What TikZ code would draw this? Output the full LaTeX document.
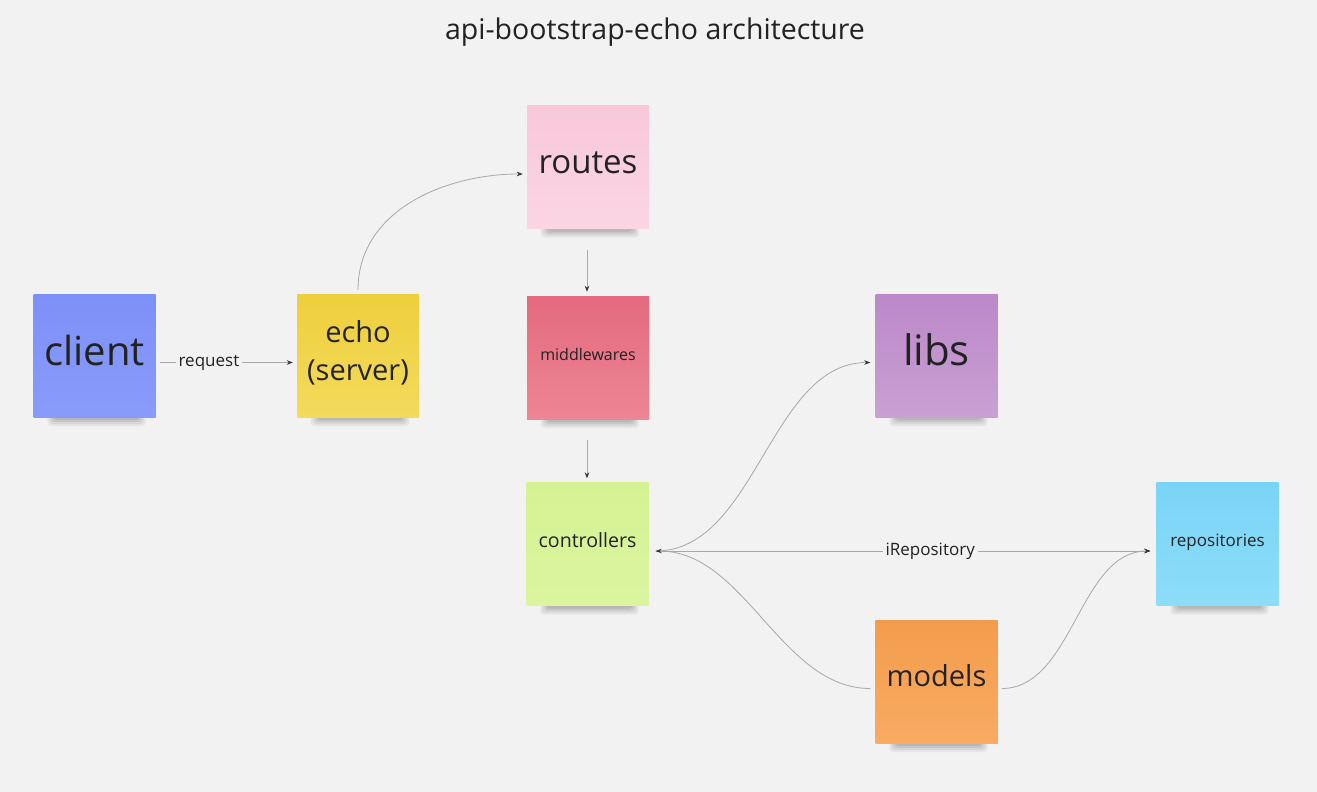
\documentclass[tikz,border=0pt]{standalone}
\usepackage{fontspec}
\setmainfont{Open Sans}
\usetikzlibrary{arrows.meta,calc,backgrounds}
\definecolor{bg}{HTML}{F2F2F2}
\definecolor{ink}{HTML}{222222}
\definecolor{wire}{HTML}{A8A8A8}
\definecolor{tipc}{HTML}{333333}
\definecolor{cliT}{HTML}{7D90F8}\definecolor{cliB}{HTML}{899BFA}
\definecolor{echT}{HTML}{EECF3C}\definecolor{echB}{HTML}{F3DA5C}
\definecolor{rouT}{HTML}{F8C8DA}\definecolor{rouB}{HTML}{FBD5E4}
\definecolor{midT}{HTML}{E46A7E}\definecolor{midB}{HTML}{EC8595}
\definecolor{conT}{HTML}{D5F292}\definecolor{conB}{HTML}{DBF5A0}
\definecolor{libT}{HTML}{BC88C8}\definecolor{libB}{HTML}{C9A0D4}
\definecolor{repT}{HTML}{7BD4F6}\definecolor{repB}{HTML}{8CDDF9}
\definecolor{modT}{HTML}{F49C4D}\definecolor{modB}{HTML}{F8AB62}
\tikzset{
  note/.style={minimum width=122pt,minimum height=123pt,inner sep=0pt},
  notetext/.style={text=ink,align=center,inner sep=0pt},
  wireline/.style={draw=wire,line width=0.8pt},
  arr/.style={wireline,-{Stealth[length=6pt,width=4.5pt,color=tipc]}},
  lbl/.style={fill=bg,inner sep=3pt,text=ink,font=\fontsize{17}{20}\selectfont}
}
\newcommand{\notesh}[1]{%
  \foreach \k/\o in {0/0.05,2/0.06,4/0.07,6/0.08}{%
    \fill[black,opacity=\o,rounded corners=4pt]
      ($(#1.south west)+(14+\k,9-\k)$) rectangle ($(#1.south east)+(-10-\k,-4)$);}%
}
\begin{document}
\begin{tikzpicture}[x=1pt,y=-1pt]
\useasboundingbox (0,0) rectangle (1317,792);
% nodes
\node[note,top color=cliT,bottom color=cliB,
  label={[notetext,yshift=5pt,font=\fontsize{40}{44}\selectfont]center:client}] (client) at (94.5,355.5) {};
\node[note,top color=echT,bottom color=echB,
  label={[notetext,yshift=3pt,font=\fontsize{29}{38}\selectfont]center:echo\\(server)}] (echo) at (358,355.5) {};
\node[note,top color=rouT,bottom color=rouB,
  label={[notetext,yshift=4.5pt,font=\fontsize{33}{36}\selectfont]center:routes}] (routes) at (588,167) {};
\node[note,top color=midT,bottom color=midB,
  label={[notetext,yshift=3pt,font=\fontsize{16}{18}\selectfont]center:middlewares}] (mid) at (588,357.5) {};
\node[note,top color=conT,bottom color=conB,
  label={[notetext,yshift=4pt,font=\fontsize{19.6}{22}\selectfont]center:controllers}] (ctrl) at (587.5,544) {};
\node[note,top color=libT,bottom color=libB,
  label={[notetext,yshift=6pt,font=\fontsize{42}{46}\selectfont]center:libs}] (libs) at (936.5,355.5) {};
\node[note,top color=repT,bottom color=repB,
  label={[notetext,yshift=2pt,font=\fontsize{17}{20}\selectfont]center:repositories}] (repo) at (1217.5,544) {};
\node[note,top color=modT,bottom color=modB,
  label={[notetext,yshift=5.5pt,font=\fontsize{29}{32}\selectfont]center:models}] (models) at (936.5,681.5) {};
% title
\node[text=ink,font=\fontsize{28.5}{32}\selectfont] (title) at (655,32.5) {api-bootstrap-echo architecture};
\begin{scope}[on background layer]
  \fill[bg] (0,0) rectangle (1317,792);
  \notesh{client}\notesh{echo}\notesh{routes}\notesh{mid}\notesh{ctrl}\notesh{libs}\notesh{repo}\notesh{models}
\end{scope}
% ports
\coordinate (cliE) at ($(client.east)+(4,7)$);
\coordinate (echW) at ($(echo.west)+(-4,7)$);
\coordinate (echN) at ($(echo.north)+(0,-4)$);
\coordinate (rouW) at ($(routes.west)+(-4,7)$);
\coordinate (rouS) at ($(routes.south)+(-1,21)$);
\coordinate (midN) at ($(mid.north)+(-1,-4)$);
\coordinate (midS) at ($(mid.south)+(-1,21)$);
\coordinate (conN) at ($(ctrl.north)+(-0.5,-4)$);
\coordinate (conE) at ($(ctrl.east)+(7,7)$);
\coordinate (libW) at ($(libs.west)+(-5,7)$);
\coordinate (repW) at ($(repo.west)+(-6,7)$);
\coordinate (modW) at ($(models.west)+(-5,7)$);
\coordinate (modE) at ($(models.east)+(4,7)$);
% connectors
\draw[arr] (cliE) -- node[lbl,pos=0.37]{request} (echW);
\draw[arr] (echN) to[out=90,in=180,looseness=1.0] (rouW);
\draw[arr] (rouS) -- (midN);
\draw[arr] (midS) -- (conN);
\draw[arr] (conE) to[out=0,in=180,looseness=0.9] (libW);
\draw[arr] (conE) -- node[lbl,pos=0.555]{iRepository} (repW);
\draw[arr] (modW) to[out=180,in=0,looseness=0.9] (conE);
\draw[arr] (modE) to[out=0,in=180,looseness=0.9] (repW);
\end{tikzpicture}
\end{document}
